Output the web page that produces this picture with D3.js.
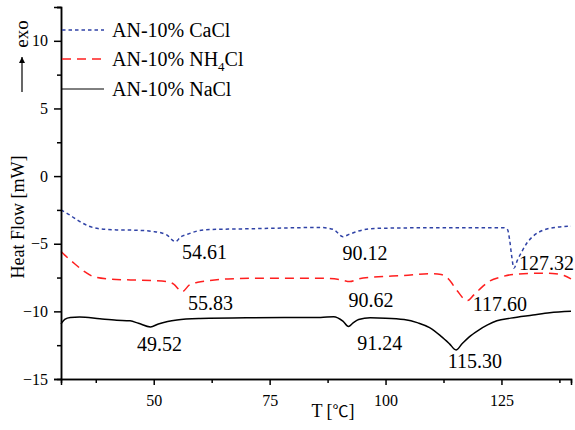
<!DOCTYPE html>
<html>
<head>
<meta charset="utf-8">
<script src="https://cdn.jsdelivr.net/npm/d3@7"></script>
<style>
    body { margin: 0; background: #fff; }
    svg { display: block; }
    svg text { font-family: "Liberation Serif", "Times New Roman", serif; }
</style>
</head>
<body>
<script>
//wrap everything in a self-executing anonymous function to move to local scope
(function(){

    //DSC curves: [temperature, heat flow]
    var cacl = [[30,-2.5],[32,-2.9],[34,-3.35],[36,-3.7],[38,-3.88],[42,-3.98],[46,-4.0],[50,-4.1],[52.8,-4.35],[54.7,-4.85],[55.8,-4.5],[57.3,-4.3],[59.5,-4.05],[62,-3.95],[70,-3.9],[86,-3.8],[88.8,-3.95],[90.8,-4.48],[92.2,-4.3],[93.8,-4.1],[96.5,-3.9],[100,-3.85],[110,-3.82],[125.5,-3.82],[126.3,-3.95],[126.8,-4.8],[127.2,-5.9],[127.7,-6.8],[128.4,-6.25],[129.6,-5.45],[130.6,-4.9],[131.8,-4.45],[134,-4.0],[136.5,-3.8],[140,-3.7]];
    var nh4cl = [[30,-5.58],[31,-5.9],[33,-6.5],[35,-7.05],[37,-7.43],[40,-7.6],[45,-7.68],[50,-7.72],[52.8,-7.8],[54.3,-7.98],[56.1,-8.55],[57.7,-8.05],[59.5,-7.85],[62,-7.72],[66,-7.6],[72,-7.55],[86,-7.55],[90.2,-7.65],[92.3,-7.8],[94,-7.62],[96.8,-7.48],[104,-7.35],[110,-7.22],[112,-7.28],[113.4,-7.55],[115.5,-8.5],[117,-9.1],[117.7,-9.2],[119,-8.8],[120.2,-8.4],[122.5,-7.75],[125,-7.45],[128,-7.25],[133,-7.18],[136,-7.2],[138.5,-7.35],[140,-7.6]];
    var nacl = [[30,-10.93],[30.8,-10.6],[32,-10.45],[34,-10.42],[38.4,-10.55],[42,-10.65],[44.9,-10.7],[46.7,-10.88],[49.3,-11.15],[51,-10.93],[53,-10.75],[55,-10.64],[60,-10.53],[70,-10.47],[86,-10.45],[88.8,-10.39],[90.8,-10.72],[92,-11.12],[93,-10.85],[94.2,-10.6],[96.7,-10.48],[100,-10.5],[104,-10.6],[107,-10.85],[109.5,-11.2],[112,-11.85],[113.8,-12.4],[115.2,-12.85],[116.5,-12.4],[118,-11.9],[120.1,-11.38],[122,-11.0],[124,-10.7],[127,-10.5],[131.8,-10.27],[135.4,-10.1],[140,-10.0]];

    //series names
    var seriesNames = ["AN-10% CaCl", "AN-10% NH4Cl", "AN-10% NaCl"];

    //peak labels: text, temperature position, heat flow position (baseline)
    var peakText = ["54.61", "90.12", "127.32", "55.83", "90.62", "117.60", "49.52", "91.24", "115.30"];
    var peakX = [56.1, 90.7, 128.8, 57.4, 92.0, 118.8, 46.4, 93.9, 113.4];
    var peakY = [-6.12, -6.2, -6.94, -9.9, -9.67, -9.97, -12.93, -12.85, -14.19];

    //tick values
    var xMajor = [50, 75, 100, 125],
        xMinor = [37.5, 62.5, 87.5, 112.5, 137.5];
    var yMajor = [-15, -10, -5, 0, 5, 10],
        yMinor = [-12.5, -7.5, -2.5, 2.5, 7.5, 12.5];

    var serif = "Liberation Serif";

    window.onload = setChart();

function setChart(){

    //frame dimensions
    var width = 575,
        height = 430;

    var margin = {left: 61, right: 4, top: 7, bottom: 51};

    var svg = d3.select("body")
        .append("svg")
        .attr("width", width)
        .attr("height", height)
        .attr("font-family", serif);

    var x = d3.scaleLinear()
        .domain([30, 140])
        .range([margin.left, width - margin.right]);

    var y = d3.scaleLinear()
        .domain([-15, 12.5])
        .range([height - margin.bottom, margin.top]);

    //curves
    var line = d3.line()
        .x(function(d){ return x(d[0]); })
        .y(function(d){ return y(d[1]); })
        .curve(d3.curveMonotoneX);

    var styles = [
        {color: "#2f42a6", dash: "3.5,3", width: 1.5},
        {color: "#ff1f1f", dash: "9,6", width: 1.5},
        {color: "#000000", dash: null, width: 1.5}
    ];

    var allSeries = [cacl, nh4cl, nacl];

    svg.selectAll(".curve")
        .data(allSeries)
        .enter()
        .append("path")
        .attr("class", "curve")
        .attr("fill", "none")
        .attr("stroke", function(d, i){ return styles[i].color; })
        .attr("stroke-width", function(d, i){ return styles[i].width; })
        .attr("stroke-dasharray", function(d, i){ return styles[i].dash; })
        .attr("d", line);

    //peak labels
    svg.selectAll(".peak")
        .data(peakText)
        .enter()
        .append("text")
        .attr("class", "peak")
        .attr("x", function(d, i){ return x(peakX[i]); })
        .attr("y", function(d, i){ return y(peakY[i]); })
        .attr("font-family", serif)
        .attr("font-size", 20)
        .attr("fill", "#000")
        .text(function(d){ return d; });

    //x axis, major and minor ticks
    var xAxisG = svg.append("g")
        .attr("transform", "translate(0," + (height - margin.bottom) + ")");

    xAxisG.append("g")
        .call(d3.axisBottom(x).tickValues(xMinor).tickSize(4).tickFormat(""));

    xAxisG.append("g")
        .call(d3.axisBottom(x).tickValues(xMajor).tickSize(6).tickPadding(10).tickFormat(d3.format("d")));

    //y axis, major and minor ticks
    var yAxisG = svg.append("g")
        .attr("transform", "translate(" + margin.left + ",0)");

    yAxisG.append("g")
        .call(d3.axisLeft(y).tickValues(yMinor).tickSize(4).tickFormat(""));

    yAxisG.append("g")
        .call(d3.axisLeft(y).tickValues(yMajor).tickSize(7).tickPadding(6).tickFormat(d3.format("d")));

    //d3 axes set sans-serif on their groups, put the serif back
    svg.selectAll("g").attr("font-family", serif);

    svg.selectAll(".domain")
        .attr("stroke", "#000")
        .attr("stroke-width", 1.5);

    svg.selectAll(".tick line")
        .attr("stroke", "#000")
        .attr("stroke-width", 1.5);

    svg.selectAll(".tick text")
        .attr("font-family", serif)
        .attr("font-size", 16)
        .attr("fill", "#000");

    //axis titles
    svg.append("text")
        .attr("transform", "translate(24,217) rotate(-90)")
        .attr("text-anchor", "middle")
        .attr("font-family", serif)
        .attr("font-size", 18)
        .text("Heat Flow [mW]");

    var xTitle = svg.append("text")
        .attr("x", 333)
        .attr("y", 417)
        .attr("text-anchor", "middle")
        .attr("font-family", serif)
        .attr("font-size", 18);
    xTitle.append("tspan").text("T [");
    xTitle.append("tspan").attr("font-family", "Noto Sans CJK SC").attr("font-size", 16).text("\u2103");
    xTitle.append("tspan").text("]");

    //exo arrow
    svg.append("defs")
        .append("marker")
        .attr("id", "arrowHead")
        .attr("viewBox", "0 0 10 10")
        .attr("refX", 10)
        .attr("refY", 5)
        .attr("markerWidth", 6)
        .attr("markerHeight", 8)
        .attr("markerUnits", "userSpaceOnUse")
        .attr("orient", "auto")
        .append("path")
        .attr("d", "M0,0L10,5L0,10Z")
        .attr("fill", "#000");

    svg.append("line")
        .attr("x1", 22).attr("y1", 92)
        .attr("x2", 22).attr("y2", 57)
        .attr("stroke", "#000")
        .attr("stroke-width", 1.2)
        .attr("marker-end", "url(#arrowHead)");

    svg.append("text")
        .attr("transform", "translate(28,34) rotate(-90)")
        .attr("text-anchor", "middle")
        .attr("font-family", serif)
        .attr("font-size", 19)
        .text("exo");

    //legend
    var legendY = [30, 59, 89];

    var legend = svg.selectAll(".legend")
        .data(seriesNames)
        .enter()
        .append("g")
        .attr("class", "legend")
        .attr("transform", function(d, i){ return "translate(0," + legendY[i] + ")"; });

    legend.append("line")
        .attr("x1", 62)
        .attr("x2", 104)
        .attr("stroke", function(d, i){ return styles[i].color; })
        .attr("stroke-width", function(d, i){ return i == 2 ? 1 : 1.3; })
        .attr("stroke-dasharray", function(d, i){ return styles[i].dash; });

    legend.append("text")
        .attr("x", 112)
        .attr("y", 7)
        .attr("font-family", serif)
        .attr("font-size", 20)
        .each(function(d){
            var t = d3.select(this);
            var parts = d.split("4");
            if (parts.length > 1){
                //subscript the 4 in NH4Cl
                t.append("tspan").text(parts[0]);
                t.append("tspan").attr("font-size", 13).attr("dy", 5).text("4");
                t.append("tspan").attr("dy", -5).text(parts[1]);
            } else {
                t.text(d);
            };
        });
}; //end of setChart()

})();
</script>
</body>
</html>
